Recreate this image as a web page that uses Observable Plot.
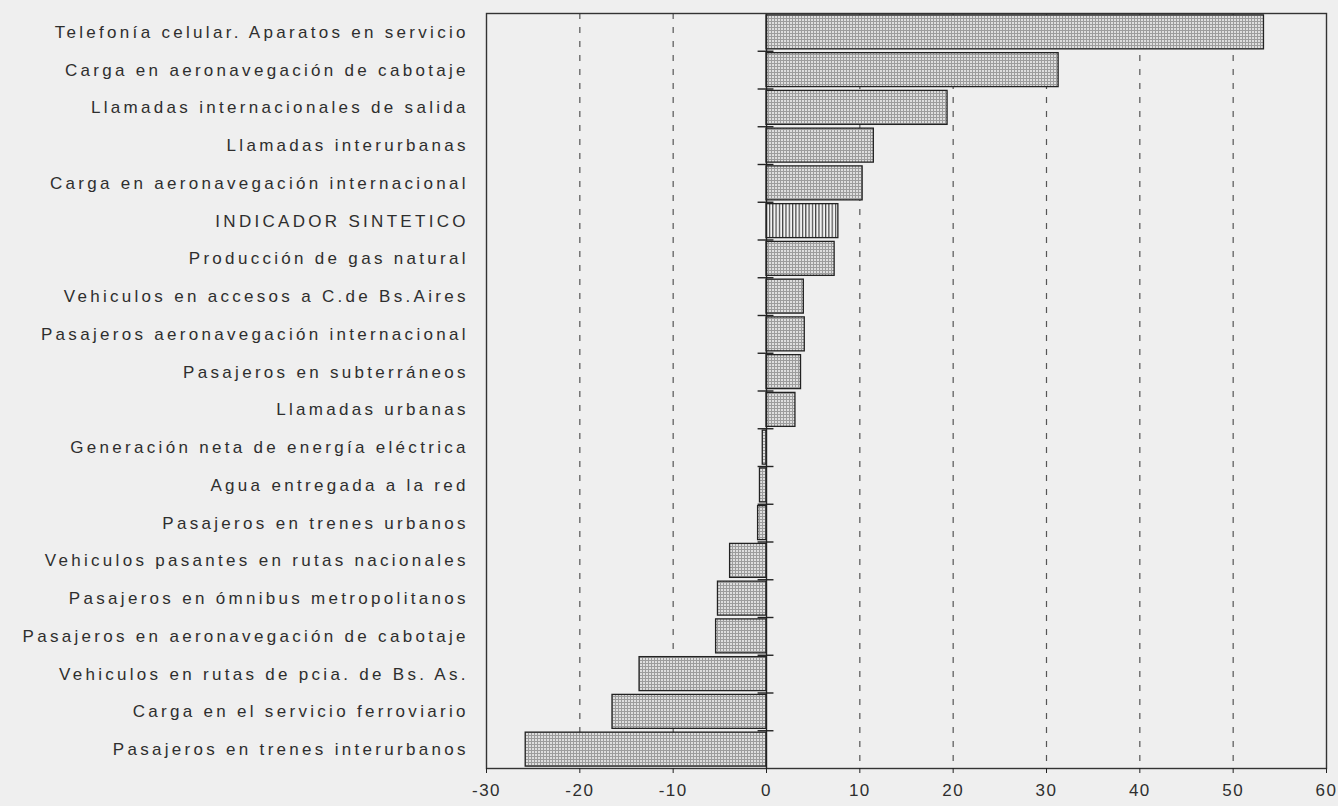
<!DOCTYPE html>
<html>
<head>
<meta charset="utf-8">
<script src="https://cdn.jsdelivr.net/npm/d3@7"></script>
<script src="https://cdn.jsdelivr.net/npm/@observablehq/plot@0.6"></script>
<style>
  html, body { margin: 0; padding: 0; background: #efefef; overflow: hidden; }
  #chart svg { display: block; }
</style>
</head>
<body>
<div id="chart"></div>
<script>
const categories = [
  "Telefonía celular. Aparatos en servicio",
  "Carga en aeronavegación de cabotaje",
  "Llamadas internacionales de salida",
  "Llamadas interurbanas",
  "Carga en aeronavegación internacional",
  "INDICADOR SINTETICO",
  "Producción de gas natural",
  "Vehiculos en accesos a C.de Bs.Aires",
  "Pasajeros aeronavegación internacional",
  "Pasajeros en subterráneos",
  "Llamadas urbanas",
  "Generación neta de energía eléctrica",
  "Agua entregada a la red",
  "Pasajeros en trenes urbanos",
  "Vehiculos pasantes en rutas nacionales",
  "Pasajeros en ómnibus metropolitanos",
  "Pasajeros en aeronavegación de cabotaje",
  "Vehiculos en rutas de pcia. de Bs. As.",
  "Carga en el servicio ferroviario",
  "Pasajeros en trenes interurbanos"
];
const values = [53.3, 31.3, 19.4, 11.5, 10.3, 7.7, 7.3, 4.0, 4.1, 3.7, 3.1, -0.4, -0.7, -0.9, -3.9, -5.2, -5.4, -13.6, -16.5, -25.8];
const highlight = "INDICADOR SINTETICO";
const xTicks = [-30, -20, -10, 0, 10, 20, 30, 40, 50, 60];

const data = categories.map((c, i) => ({category: c, value: values[i]}));

const W = 1338, H = 806;
const mt = 13, mb = 38, ml = 486, mr = 12;
const step = (H - mt - mb) / categories.length;
const ySpacing = 3.3;

const plot = Plot.plot({
  width: W,
  height: H,
  marginTop: mt,
  marginBottom: mb,
  marginLeft: ml,
  marginRight: mr,
  style: {background: "#efefef", color: "#222", fontFamily: "'Liberation Sans', Arial, sans-serif"},
  x: {domain: [xTicks[0], xTicks[xTicks.length - 1]]},
  y: {domain: categories, paddingInner: 0.1, paddingOuter: 0.05, round: false},
  marks: [
    Plot.ruleX(xTicks.filter(v => v !== 0 && v !== xTicks[0] && v !== xTicks[xTicks.length - 1]), {
      stroke: "#555", strokeWidth: 1.2, strokeDasharray: "6,8"
    }),
    Plot.barX(data, {
      y: "category",
      x: "value",
      fill: d => d.category === highlight ? "url(#stripes)" : "url(#dots)",
      stroke: "#222",
      strokeWidth: 1.3
    }),
    Plot.ruleX([0], {stroke: "#222", strokeWidth: 1.4}),
    Plot.ruleY(categories.slice(0, -1), {
      y: d => d, x1: -0.9, x2: 0.8, dy: step / 2, stroke: "#222", strokeWidth: 1.4
    }),
    Plot.frame({stroke: "#333", strokeWidth: 1.4}),
    Plot.axisY({
      tickSize: 0, tickPadding: 21 - ySpacing, label: null,
      fontSize: 17, fill: "#2e2e2e"
    }),
    Plot.axisX({
      ticks: xTicks, tickSize: 5, tickPadding: 10, label: null,
      tickFormat: d => String(d), fontSize: 17, fill: "#2e2e2e"
    })
  ]
});

plot.insertAdjacentHTML("afterbegin", `
<defs>
  <pattern id="dots" width="3" height="3" patternUnits="userSpaceOnUse">
    <rect width="3" height="3" fill="#9c9c9c"></rect>
    <rect x="1" y="1" width="2" height="2" fill="#dedede"></rect>
  </pattern>
  <pattern id="stripes" width="3.3" height="4" patternUnits="userSpaceOnUse">
    <rect width="3.3" height="4" fill="#f3f3f3"></rect>
    <rect x="0" y="0" width="1.2" height="4" fill="#444"></rect>
  </pattern>
</defs>`);

plot.querySelectorAll("[aria-label='y-axis tick label'] text").forEach(t => t.style.letterSpacing = ySpacing + "px");
plot.querySelectorAll("[aria-label='x-axis tick label'] text").forEach(t => t.style.letterSpacing = "1.5px");

document.getElementById("chart").appendChild(plot);
</script>
</body>
</html>
